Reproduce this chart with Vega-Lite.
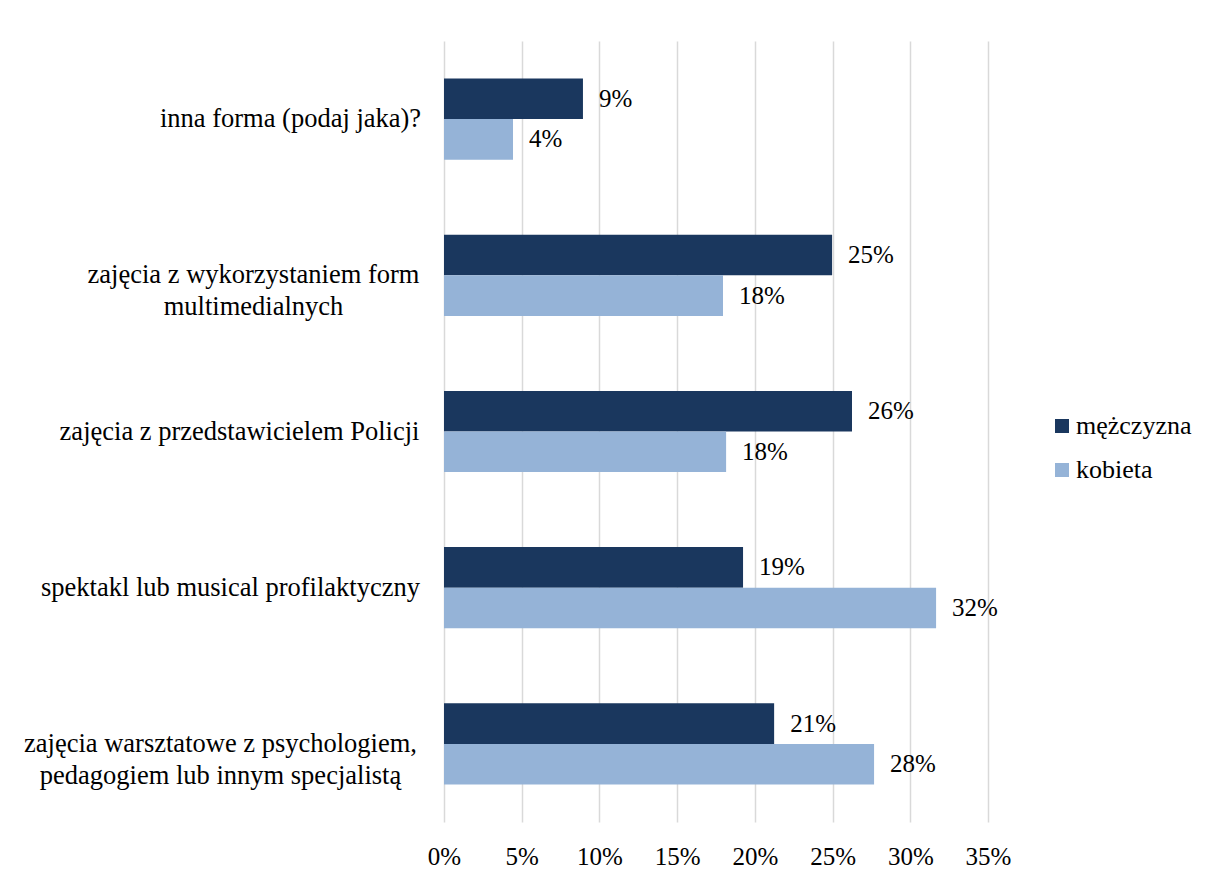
{
  "$schema": "https://vega.github.io/schema/vega-lite/v6.json",
  "width": 544,
  "height": 781,
  "autosize": {"type": "none"},
  "padding": {"left": 444, "top": 41, "right": 220, "bottom": 57},
  "background": "white",
  "config": {"view": {"stroke": null}},
  "data": {
    "values": [
      {"kategoria": "inna forma (podaj jaka)?", "plec": "mężczyzna", "wartosc": 0.0894},
      {"kategoria": "inna forma (podaj jaka)?", "plec": "kobieta", "wartosc": 0.0444},
      {"kategoria": "zajęcia z wykorzystaniem form\nmultimedialnych", "plec": "mężczyzna", "wartosc": 0.2497},
      {"kategoria": "zajęcia z wykorzystaniem form\nmultimedialnych", "plec": "kobieta", "wartosc": 0.1795},
      {"kategoria": "zajęcia z przedstawicielem Policji", "plec": "mężczyzna", "wartosc": 0.2625},
      {"kategoria": "zajęcia z przedstawicielem Policji", "plec": "kobieta", "wartosc": 0.1815},
      {"kategoria": "spektakl lub musical profilaktyczny", "plec": "mężczyzna", "wartosc": 0.1924},
      {"kategoria": "spektakl lub musical profilaktyczny", "plec": "kobieta", "wartosc": 0.3166},
      {"kategoria": "zajęcia warsztatowe z psychologiem,\npedagogiem lub innym specjalistą", "plec": "mężczyzna", "wartosc": 0.2124},
      {"kategoria": "zajęcia warsztatowe z psychologiem,\npedagogiem lub innym specjalistą", "plec": "kobieta", "wartosc": 0.2767}
    ]
  },
  "encoding": {
    "y": {
      "field": "kategoria",
      "type": "nominal",
      "sort": [
        "inna forma (podaj jaka)?",
        "zajęcia z wykorzystaniem form\nmultimedialnych",
        "zajęcia z przedstawicielem Policji",
        "spektakl lub musical profilaktyczny",
        "zajęcia warsztatowe z psychologiem,\npedagogiem lub innym specjalistą"
      ],
      "scale": {"paddingInner": 0.48, "paddingOuter": 0.24},
      "axis": {
        "title": null,
        "domain": false,
        "ticks": false,
        "labelAlign": "center",
        "labelPadding": {
          "condition": [
            {"test": "indexof(datum.value, 'inna forma') >= 0", "value": 154},
            {"test": "indexof(datum.value, 'multimedialnych') >= 0", "value": 191},
            {"test": "indexof(datum.value, 'spektakl') >= 0", "value": 214},
            {"test": "indexof(datum.value, 'warsztatowe') >= 0", "value": 224}
          ],
          "value": 205
        },
        "labelFont": "Times New Roman",
        "labelFontSize": 26.5,
        "labelColor": "#000000",
        "labelExpr": "split(datum.label, '\\n')",
        "labelLineHeight": 32,
        "labelLimit": 600
      }
    },
    "yOffset": {"field": "plec", "type": "nominal", "sort": ["mężczyzna", "kobieta"]},
    "x": {
      "field": "wartosc",
      "type": "quantitative",
      "scale": {"domain": [0, 0.35], "nice": false},
      "axis": {
        "title": null,
        "values": [0, 0.05, 0.1, 0.15, 0.2, 0.25, 0.3, 0.35],
        "format": ".0%",
        "grid": true,
        "gridColor": "#d9d9d9",
        "gridWidth": 1.5,
        "ticks": false,
        "domain": false,
        "labelFlush": false,
        "labelPadding": 22,
        "labelFont": "Times New Roman",
        "labelFontSize": 25,
        "labelColor": "#000000"
      }
    }
  },
  "layer": [
    {
      "mark": {"type": "bar"},
      "encoding": {
        "color": {
          "field": "plec",
          "type": "nominal",
          "scale": {"domain": ["mężczyzna", "kobieta"], "range": ["#1a375e", "#95b3d7"]},
          "legend": {
            "title": null,
            "orient": "none",
            "legendX": 605,
            "legendY": 372,
            "padding": 0,
            "symbolType": "square",
            "symbolSize": 196,
            "symbolStrokeWidth": 0,
            "labelFont": "Times New Roman",
            "labelFontSize": 26,
            "labelColor": "#000000",
            "labelOffset": 1,
            "rowPadding": 18
          }
        }
      }
    },
    {
      "mark": {"type": "text", "align": "left", "baseline": "middle", "dx": 16, "font": "Times New Roman", "fontSize": 25, "color": "#000000"},
      "encoding": {"text": {"field": "wartosc", "type": "quantitative", "format": ".0%"}}
    }
  ]
}
